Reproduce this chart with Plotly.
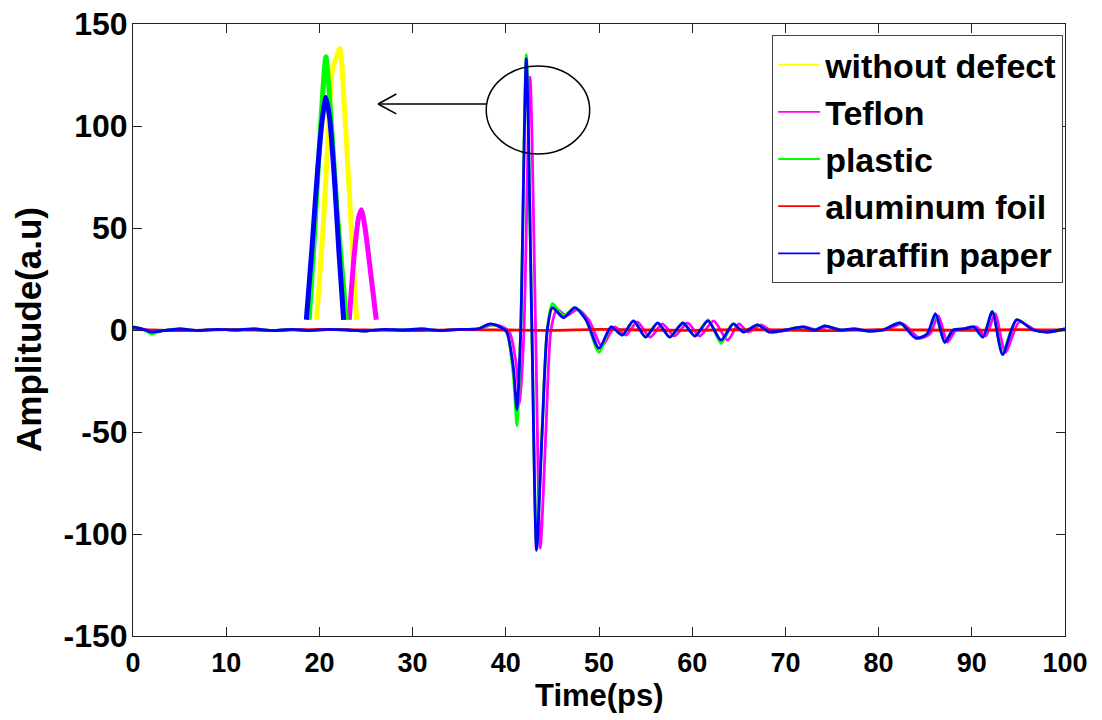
import plotly.graph_objects as go

# ---------------- data ----------------
series_names = ["without defect", "Teflon", "plastic", "aluminum foil", "paraffin paper"]
series_colors = ["#FFFF00", "#FF00FF", "#00FF00", "#FF0000", "#0000FF"]

time_ps = [0, 1, 2, 3, 5, 7, 9, 11, 13, 15,
           17, 19, 21, 23, 25, 27, 29, 31, 33, 35,
           37, 38.3, 39.4, 40.1, 40.8, 41.2, 41.6, 42.2, 42.8, 43.3,
           43.9, 44.45, 45.0, 46.2, 47.4, 48.6, 50.0, 51.3, 52.5, 53.7,
           55.0, 56.3, 57.6, 59.0, 60.3, 61.7, 63.1, 64.4, 65.5, 67.0,
           68.3, 70.0, 71.9, 73.2, 74.2, 75.9, 77.3, 78.8, 80.5, 82.3,
           84.0, 85.2, 86.1, 87.1, 88.0, 89.1, 90.2, 91.2, 92.2, 93.3,
           94.8, 96.6, 98.1, 100]

without_defect = [1.5, 0.5, -1.2, -0.5, 0.5, -0.3, 0.3, 0, 0.5, -0.3,
                  0.3, -0.3, 0.3, 0, -0.5, 0.3, 0, 0.5, -0.3, 0.3,
                  0.5, 2.5, 1.5, -1, -20, -42, 0, 134, 0, -106,
                  -48, 0, 10, 7, 11, 5, -10, 1.5, -2.5, 4.5,
                  -3.5, 3.5, -3.5, 3.5, -3, 5, -5.5, 3, -1, 2.5,
                  -1, 0, 1.5, 0, 2, 0, 0.5, -0.5, 0, 3,
                  -4, -2, 7, -6, 0, 0.5, 1.5, -3, 8, -11,
                  5, 0, -1, 0.5]

plastic = [1.5, 0.5, -2.0, -0.5, 0.5, -0.3, 0.3, 0, 0.5, -0.3,
           0.3, -0.3, 0.3, 0, -0.5, 0.3, 0, 0.5, -0.3, 0.3,
           0.5, 2.5, 1.5, -1, -22, -47, 0, 135, 0, -105,
           -48, 0, 13, 7, 11, 5, -11, 1.5, -2.5, 4.5,
           -3.5, 3.5, -3.5, 3.5, -3, 5, -6.5, 3, -1, 2.5,
           -1, 0, 1.5, 0, 2, 0, 0.5, -0.5, 0, 3.5,
           -4, -2, 7, -6, 0, 0.5, 1.5, -3.5, 9, -11,
           5, 0, -1, 0.5]

paraffin_paper = [1.5, 0.5, -1.0, -0.5, 0.5, -0.3, 0.3, 0, 0.5, -0.3,
                  0.3, -0.3, 0.3, 0, -0.5, 0.3, 0, 0.5, -0.3, 0.3,
                  0.5, 3, 1.5, -1, -18, -39, 0, 133, 0, -108,
                  -50, 0, 11, 6, 11, 5, -9, 1.5, -2.5, 4.5,
                  -3.5, 3.5, -3.5, 3.5, -3, 4.5, -5, 3, -1, 2.5,
                  -1, 0, 1.5, 0, 2, 0, 0.5, -0.5, 0, 3.5,
                  -4, -2, 8, -6, 0, 0.5, 1.5, -3.5, 9, -12,
                  5, 0, -1, 0.5]

time_teflon = [0, 1, 2, 3, 5, 7, 9, 11, 13, 15,
               17, 19, 21, 23, 25, 27, 29, 31, 33, 35,
               37, 38.6, 39.7, 40.4, 41.1, 41.5, 41.95, 42.6, 43.2, 43.7,
               44.3, 44.85, 45.5, 46.5, 47.7, 48.9, 50.3, 51.7, 52.9, 54.1,
               55.5, 56.8, 58.1, 59.5, 60.8, 62.3, 63.8, 65.0, 66.0, 67.4,
               68.7, 70.3, 72.1, 73.4, 74.4, 76.1, 77.5, 79.0, 80.7, 82.6,
               84.4, 85.5, 86.4, 87.4, 88.3, 89.4, 90.5, 91.5, 92.5, 93.6,
               95.1, 96.8, 98.3, 100]

teflon = [1.0, 0.5, -1.0, -0.5, 0.5, -0.3, 0.3, 0, 0.5, -0.3,
          0.3, -0.3, 0.3, 0, -0.5, 0.3, 0, 0.5, -0.3, 0.3,
          0.5, 2.5, 1.5, -1, -16, -36, 0, 124, 0, -107,
          -50, 0, 10, 7, 10, 5, -8, 1.5, -2.5, 4,
          -3.5, 3, -3, 3.5, -3, 4.5, -5, 3, -1, 2.5,
          -1, 0, 1.5, 0, 1.5, 0, 0.5, -0.5, 0, 3,
          -4, -2, 7, -6, 0, 0.5, 1.5, -3, 8, -11,
          4, 0, -1, 0.5]

time_foil = [0, 2, 5, 10, 15, 20, 25, 30, 35, 40, 45,
             50, 55, 60, 65, 70, 75, 80, 85, 90, 95, 100]
aluminum_foil = [0.5, 0, -0.3, 0.2, -0.2, 0.3, 0, -0.3, 0.2, 0, -0.2,
                 0.3, 0, -0.2, 0.2, 0, -0.3, 0.2, 0, -0.2, 0.2, 0]

# zoomed peak inset (drawn in the same axes)
inset_t_without = [19.7, 20.4, 21.0, 21.4, 21.7, 22.2, 22.7, 23.3, 24.0]
inset_v_without = [5, 50, 100, 128, 132, 138, 108, 60, 5]
inset_t_teflon = [23.2, 23.7, 24.2, 24.5, 24.9, 25.5, 26.1]
inset_v_teflon = [5, 35, 55, 59, 50, 28, 5]
inset_t_plastic = [18.9, 19.5, 20.1, 20.7, 21.3, 21.9, 22.9]
inset_v_plastic = [5, 48, 98, 134, 100, 58, 5]
inset_t_paraffin = [18.6, 19.2, 19.8, 20.3, 20.7, 21.1, 21.6, 22.1, 22.6]
inset_v_paraffin = [5, 40, 78, 103, 114, 104, 75, 38, 5]

x_ticks = [0, 10, 20, 30, 40, 50, 60, 70, 80, 90, 100]
x_tick_labels = ["0", "10", "20", "30", "40", "50", "60", "70", "80", "90", "100"]
y_ticks = [-150, -100, -50, 0, 50, 100, 150]
y_tick_labels = ["-150", "-100", "-50", "0", "50", "100", "150"]

x_title = "Time(ps)"
y_title = "Amplitude(a.u)"

# annotation geometry (data units)
ellipse_box = dict(x0=37.9, x1=49.0, y0=86.3, y1=129.4)
arrow_start = (37.9, 110.8)
arrow_tip = (26.3, 110.8)
arrow_head_dx, arrow_head_dy = 1.95, 4.9

FONT = "Liberation Sans, Arial, sans-serif"

fig = go.Figure()

main = [
    (time_ps, without_defect),
    (time_teflon, teflon),
    (time_ps, plastic),
    (time_foil, aluminum_foil),
    (time_ps, paraffin_paper),
]
for (t, v), name, col in zip(main, series_names, series_colors):
    fig.add_trace(go.Scatter(
        x=t, y=v, mode="lines", name=name, showlegend=False,
        line=dict(color=col, width=2.8, shape="spline", smoothing=0.7),
    ))

insets = [
    (inset_t_without, inset_v_without, series_colors[0]),
    (inset_t_teflon, inset_v_teflon, series_colors[1]),
    (inset_t_plastic, inset_v_plastic, series_colors[2]),
    (inset_t_paraffin, inset_v_paraffin, series_colors[4]),
]
for t, v, col in insets:
    fig.add_trace(go.Scatter(
        x=t, y=v, mode="lines", showlegend=False, hoverinfo="skip",
        line=dict(color=col, width=5, shape="spline", smoothing=0.6),
    ))

# legend entries (thin sample lines as in the original)
for name, col in zip(series_names, series_colors):
    fig.add_trace(go.Scatter(
        x=[None], y=[None], mode="lines", name=name,
        line=dict(color=col, width=1.8),
    ))

# ellipse and arrow
fig.add_shape(type="circle", xref="x", yref="y", line=dict(color="black", width=1.5),
              **ellipse_box)
fig.add_shape(type="line", xref="x", yref="y",
              x0=arrow_start[0], y0=arrow_start[1], x1=arrow_tip[0], y1=arrow_tip[1],
              line=dict(color="black", width=1.5))
for s in (1, -1):
    fig.add_shape(type="line", xref="x", yref="y",
                  x0=arrow_tip[0], y0=arrow_tip[1],
                  x1=arrow_tip[0] + arrow_head_dx, y1=arrow_tip[1] + s * arrow_head_dy,
                  line=dict(color="black", width=1.5))

# axis titles
fig.add_annotation(text="<b>%s</b>" % x_title, xref="paper", yref="paper",
                   x=0.5, y=0, xanchor="center", yanchor="middle", yshift=-59,
                   showarrow=False, font=dict(size=31, family=FONT, color="black"))
fig.add_annotation(text="<b>%s</b>" % y_title, xref="paper", yref="paper",
                   x=0, y=0.5, xanchor="center", yanchor="middle", xshift=-105,
                   textangle=-90, showarrow=False,
                   font=dict(size=35, family=FONT, color="black"))

axis_common = dict(
    showgrid=False, zeroline=False, showline=True, linecolor="#222222", linewidth=1,
    mirror="ticks", ticks="inside", ticklen=9, tickcolor="#222222", tickwidth=1,
    automargin=False, ticklabeloverflow="allow",
)

# page body has an 8px margin: figure is 1094x712 so the page stays 1102x720
fig.update_layout(
    width=1094, height=712,
    margin=dict(l=125, r=37, t=16, b=84),
    paper_bgcolor="white", plot_bgcolor="white",
    font=dict(family=FONT, color="black"),
    xaxis=dict(range=[0, 100], tickvals=x_ticks, ticktext=x_tick_labels,
               tickfont=dict(size=27, family=FONT, weight="bold"),
               ticklabelstandoff=3,
               **axis_common),
    yaxis=dict(range=[-150, 150], tickvals=y_ticks, ticktext=y_tick_labels,
               tickfont=dict(size=32, family=FONT, weight="bold"),
               ticklabelstandoff=-2,
               **axis_common),
    legend=dict(x=0.998, xanchor="right", y=0.982, yanchor="top",
                bgcolor="white", bordercolor="#444444", borderwidth=1,
                font=dict(size=34, family=FONT, weight="bold"),
                tracegroupgap=0, itemwidth=42),
    showlegend=True,
)

fig.write_html("out.html")
